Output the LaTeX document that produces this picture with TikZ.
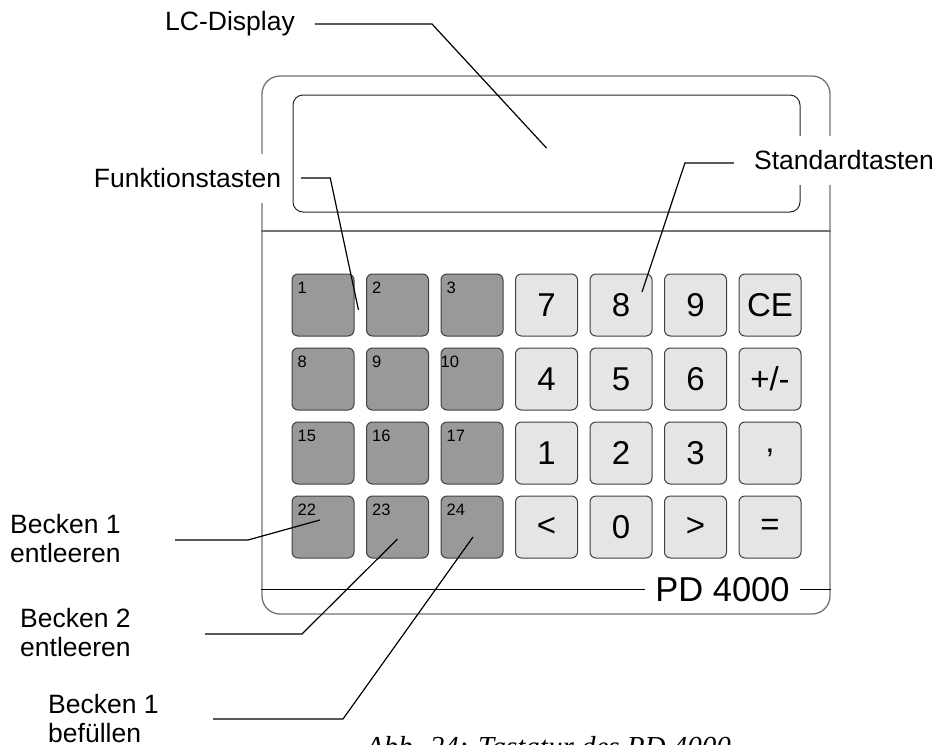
\documentclass[tikz,border=0pt]{standalone}
\usepackage{fontspec}
\setmainfont{Liberation Sans}
\newfontfamily\capfont{Liberation Serif}
\begin{document}
\begin{tikzpicture}[x=1pt,y=-1pt,
	casing/.style={draw=black!55,line width=1.3pt,rounded corners=18,minimum width=568,minimum height=538,inner sep=0pt},
	display/.style={draw=black!85,line width=1pt,rounded corners=10,minimum width=507,minimum height=117,inner sep=0pt},
	fkey/.style={draw=black!75,fill=black!40,line width=1pt,rounded corners=6,minimum width=62,minimum height=62,inner sep=0pt},
	skey/.style={draw=black!75,fill=black!10,line width=1pt,rounded corners=6,minimum width=62,minimum height=62,inner sep=0pt,font=\fontsize{33}{36}\selectfont},
	knum/.style={font=\fontsize{16.5}{18}\selectfont,inner sep=0pt,anchor=north west},
	callout/.style={font=\fontsize{26.5}{29.5}\selectfont,fill=white,inner xsep=4pt,inner ysep=0pt},
	leader/.style={line width=1.2pt}]
	\useasboundingbox (0,0) rectangle (938,745);
	\clip (0,0) rectangle (938,745);
	% Gehaeuse und Display
	\node[casing] (case) at (546,345) {};
	\node[display] (lcd) at (546.5,153.5) {};
	\draw[draw=black!55,line width=1.3pt] (case.west |- 0,231) -- (case.east |- 0,231);
	\draw[line width=1pt] (case.west |- 0,589) -- (case.east |- 0,589);
	\node[callout,font=\fontsize{34.5}{38}\selectfont,inner xsep=10.5pt] (pdname) at (722.5,589.5) {PD 4000};
	% Funktionstasten
	\foreach \r in {0,...,3}
		\foreach \c in {0,1,2}{
			\pgfmathtruncatemacro\n{7*\r+\c+1}
			\pgfmathsetmacro\dx{\n==10 ? 0 : 6}
			\node[fkey] (f\n) at ({323+74.5*\c},{305+74*\r}) {};
			\node[knum] at ([shift={(\dx,8)}]f\n.north west) {\n};
		}
	% Standardtasten
	\foreach \lab [count=\i from 0] in {7,8,9,CE,4,5,6,+/-,1,2,3,{,},<,0,>,=}{
		\pgfmathtruncatemacro\r{int(\i/4)}
		\pgfmathtruncatemacro\c{mod(\i,4)}
		\node[skey] (s\i) at ({546.5+74.5*\c},{305+74*\r}) {\lab};
	}
	% Beschriftungen
	\node[callout] (lcdlabel) at (230,24) {LC-Display};
	\node[callout,minimum height=49pt] (fktlabel) at (187.5,178) {Funktionstasten};
	\node[callout,minimum height=49pt] (stdlabel) at (844,160) {Standardtasten};
	\node[callout,align=left,anchor=west] (b1e) at (6,538.5) {Becken 1\\entleeren};
	\node[callout,align=left,anchor=west] (b2e) at (16,632.5) {Becken 2\\entleeren};
	\node[callout,align=left,anchor=west] (b1f) at (44,718.5) {Becken 1\\bef\"ullen};
	\node[font=\capfont\itshape\fontsize{29}{32}\selectfont,anchor=base west,inner sep=0pt] (caption) at (366,756) {Abb. 24: Tastatur des PD 4000};
	% Hinweislinien
	\coordinate (b1e end) at (175,540);
	\coordinate (b2e end) at (205,634);
	\coordinate (b1f end) at (213,719);
	\draw[leader] ([xshift=16pt]lcdlabel.east) -- ++(117,0) -- ([yshift=5.5pt]lcd.center);
	\draw[leader] ([xshift=16pt]fktlabel.east) -- ++(29,0) -- ([shift={(4,5)}]f1.east);
	\draw[leader] ([shift={(-16,3)}]stdlabel.west) -- ++(-49,0) -- ([shift={(21,-13)}]s1.center);
	\draw[leader] (b1e end) -- ++(73,0) -- ([shift={(-3,-7)}]f22.center);
	\draw[leader] (b2e end) -- ++(97,0) -- ([shift={(0,12)}]f23.center);
	\draw[leader] (b1f end) -- ++(130,0) -- ([shift={(1,10)}]f24.center);
\end{tikzpicture}
\end{document}
